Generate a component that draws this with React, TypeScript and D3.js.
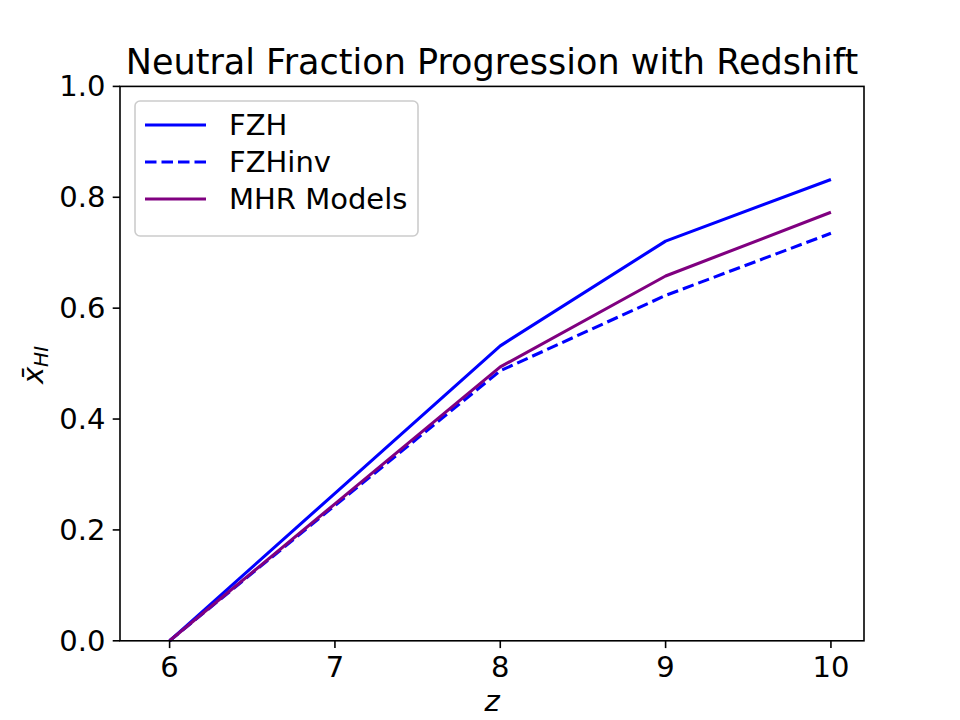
import React from "react";
import * as d3 from "d3";

// Redshift samples and neutral fraction for each model
const redshifts = [6, 7, 8, 9, 10];
const fzh = [0.0, 0.266, 0.532, 0.721, 0.832];
const fzhInv = [0.0, 0.244, 0.487, 0.623, 0.735];
const mhr = [0.0, 0.247, 0.494, 0.658, 0.773];

const xTicks = [6, 7, 8, 9, 10];
const yTicks = [0.0, 0.2, 0.4, 0.6, 0.8, 1.0];

const seriesNames = ["FZH", "FZHinv", "MHR Models"];
const seriesColors = ["#0000ff", "#0000ff", "#800080"];
const seriesDash = [null, "11.5,5", null];
const seriesValues = [fzh, fzhInv, mhr];

const W = 960;
const H = 720;
const M = { left: 120, right: 864, top: 86.4, bottom: 640.8 };
const FONT = "DejaVu Sans, sans-serif";
const FS = 29;

export default function App() {
  const x = d3.scaleLinear().domain([5.7, 10.2]).range([M.left, M.right]);
  const y = d3.scaleLinear().domain([0, 1]).range([M.bottom, M.top]);

  const line = d3
    .line<[number, number]>()
    .x((d) => x(d[0]))
    .y((d) => y(d[1]));

  const tickLen = 7.3;
  const pad = 7.3;

  return (
    <svg width={W} height={H} style={{ display: "block", position: "absolute", left: 0, top: 0 }}>
      <rect x={0} y={0} width={W} height={H} fill="#fff" />

      {/* data lines */}
      <g>
        {seriesValues.map((vals, i) => (
          <path
            key={seriesNames[i]}
            d={line(redshifts.map((z, j) => [z, vals[j]]) as [number, number][]) || ""}
            fill="none"
            stroke={seriesColors[i]}
            strokeWidth={3.1}
            strokeDasharray={seriesDash[i] || undefined}
            strokeLinejoin="round"
          />
        ))}
      </g>

      {/* axes frame */}
      <rect
        x={M.left}
        y={M.top}
        width={M.right - M.left}
        height={M.bottom - M.top}
        fill="none"
        stroke="#000"
        strokeWidth={1.6}
      />

      {/* x ticks */}
      <g fontFamily={FONT} fontSize={FS} fill="#000">
        {xTicks.map((t) => (
          <g key={t}>
            <line x1={x(t)} x2={x(t)} y1={M.bottom} y2={M.bottom + tickLen} stroke="#000" strokeWidth={1.6} />
            <text x={x(t)} y={677} textAnchor="middle">
              {t}
            </text>
          </g>
        ))}
      </g>

      {/* y ticks */}
      <g fontFamily={FONT} fontSize={FS} fill="#000">
        {yTicks.map((t) => (
          <g key={t}>
            <line x1={M.left - tickLen} x2={M.left} y1={y(t)} y2={y(t)} stroke="#000" strokeWidth={1.6} />
            <text x={M.left - tickLen - pad} y={y(t)} textAnchor="end" dominantBaseline="central">
              {t.toFixed(1)}
            </text>
          </g>
        ))}
      </g>

      {/* axis labels */}
      <text
        x={(M.left + M.right) / 2}
        y={711}
        textAnchor="middle"
        fontFamily={FONT}
        fontSize={FS}
        fontStyle="italic"
      >
        z
      </text>
      <text
        transform={`translate(43, 365) rotate(-90)`}
        textAnchor="middle"
        fontFamily={FONT}
        fontSize={FS}
        fontStyle="italic"
      >
        {"x\u0304"}
        <tspan fontSize={20} dy={5}>HI</tspan>
      </text>

      {/* title */}
      <text
        x={(M.left + M.right) / 2}
        y={74}
        textAnchor="middle"
        fontFamily={FONT}
        fontSize={35}
      >
        Neutral Fraction Progression with Redshift
      </text>

      {/* legend */}
      <g>
        <rect
          x={135}
          y={101}
          width={283}
          height={135}
          rx={5}
          ry={5}
          fill="#fff"
          fillOpacity={0.8}
          stroke="#cccccc"
          strokeWidth={1.6}
        />
        {seriesNames.map((name, i) => {
          const cy = 125 + i * 37;
          return (
            <g key={name}>
              <line
                x1={145}
                x2={206}
                y1={cy}
                y2={cy}
                stroke={seriesColors[i]}
                strokeWidth={3.1}
                strokeDasharray={seriesDash[i] || undefined}
              />
              <text x={229} y={cy} dominantBaseline="central" fontFamily={FONT} fontSize={FS}>
                {name}
              </text>
            </g>
          );
        })}
      </g>
    </svg>
  );
}
